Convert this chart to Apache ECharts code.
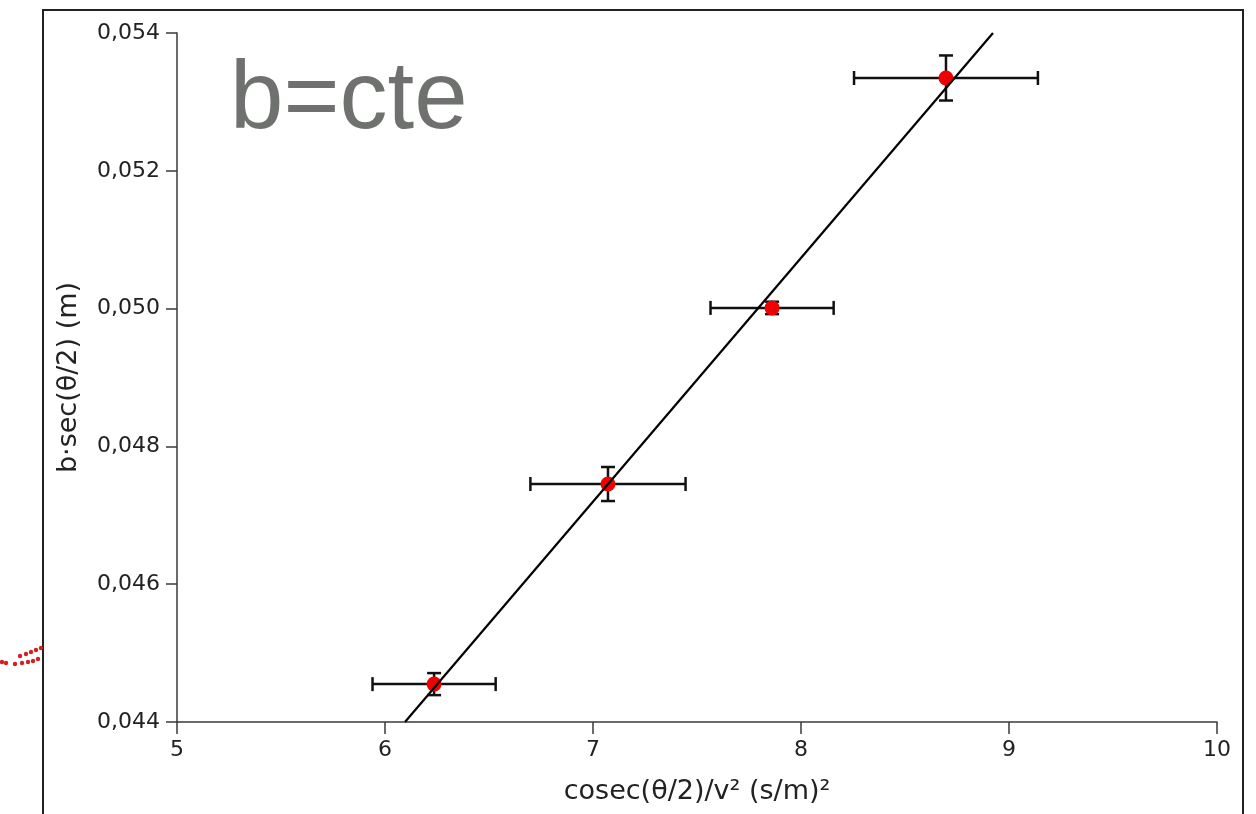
<!DOCTYPE html>
<html><head><meta charset="utf-8">
<style>html,body{margin:0;padding:0;background:#fff}#c{width:1256px;height:814px}</style>
<script src="https://cdn.jsdelivr.net/npm/echarts@6/dist/echarts.min.js"></script>
</head><body><div id="c"></div>
<script>
// Data
const xValues = [6.236, 7.072, 7.861, 8.697];
const yValues = [0.04455, 0.047454, 0.05001, 0.053347];
const xErrors = [0.296, 0.373, 0.296, 0.442];
const yErrors = [0.00016, 0.000247, 0.00009, 0.000327];
const fitX = [6.096, 8.923];
const fitY = [0.044, 0.054];
const xTicks = [5, 6, 7, 8, 9, 10];
const yTicks = [0.044, 0.046, 0.048, 0.050, 0.052, 0.054];
const xTitle = 'cosec(θ/2)/v² (s/m)²';
const yTitle = 'b·sec(θ/2) (m)';
const overlayText = 'b=cte';

const pts = xValues.map((x, i) => [x, yValues[i], xErrors[i], yErrors[i]]);
const fitLine = fitX.map((x, i) => [x, fitY[i]]);

const chart = echarts.init(document.getElementById('c'), null, {renderer: 'canvas'});
const axisColor = '#3a3a3a';
const labelFont = 'DejaVu Sans';

// decorative red dots at the left edge (slide fragment)
const deco = [[41,648],[36,650],[31,652],[26,654],[20,656],[38,659],[33,661],[28,662],[22,663],[15,664],[6,663],[2,662]];

chart.setOption({
  animation: false,
  backgroundColor: '#fff',
  grid: {left: 177, right: 39, top: 33, bottom: 92, containLabel: false},
  xAxis: {
    type: 'value', min: xTicks[0], max: xTicks[xTicks.length-1], interval: 1,
    name: xTitle, nameLocation: 'middle', nameGap: 56,
    nameTextStyle: {fontFamily: labelFont, fontSize: 27, color: '#222'},
    axisLine: {show: true, onZero: false, lineStyle: {color: axisColor, width: 1.5}},
    axisTick: {show: true, length: 12, lineStyle: {color: axisColor, width: 1.5}},
    axisLabel: {fontFamily: labelFont, fontSize: 22, color: '#222', margin: 17},
    splitLine: {show: false}
  },
  yAxis: {
    type: 'value', min: yTicks[0], max: yTicks[yTicks.length-1], interval: 0.002,
    name: yTitle, nameLocation: 'middle', nameGap: 95, nameRotate: 90,
    nameTextStyle: {fontFamily: labelFont, fontSize: 27, color: '#222'},
    axisLine: {show: true, onZero: false, lineStyle: {color: axisColor, width: 1.5}},
    axisTick: {show: true, length: 11, lineStyle: {color: axisColor, width: 1.5}},
    axisLabel: {fontFamily: labelFont, fontSize: 22, color: '#222', margin: 17,
      formatter: v => v.toFixed(3).replace('.', ',')},
    splitLine: {show: false}
  },
  graphic: [
    {type: 'rect', shape: {x: 43, y: 10, width: 1200, height: 820}, style: {fill: 'none', stroke: '#222', lineWidth: 2}, z: -1},
    {type: 'text', left: 230, top: 54, style: {text: overlayText, fontFamily: 'Liberation Sans', fontSize: 96, fill: '#6f716f'}}
  ].concat(deco.map(d => ({type: 'circle', shape: {cx: d[0], cy: d[1], r: 2.2}, style: {fill: '#d42020'}}))),
  series: [
    {
      type: 'custom', z: 2,
      data: pts,
      renderItem: function (params, api) {
        const x = api.value(0), y = api.value(1), ex = api.value(2), ey = api.value(3);
        const l = api.coord([x - ex, y]), r = api.coord([x + ex, y]);
        const t = api.coord([x, y + ey]), b = api.coord([x, y - ey]);
        const cap = 7;
        const st = {stroke: '#111', lineWidth: 2.5};
        return {type: 'group', children: [
          {type: 'line', shape: {x1: l[0], y1: l[1], x2: r[0], y2: r[1]}, style: st},
          {type: 'line', shape: {x1: l[0], y1: l[1]-cap, x2: l[0], y2: l[1]+cap}, style: st},
          {type: 'line', shape: {x1: r[0], y1: r[1]-cap, x2: r[0], y2: r[1]+cap}, style: st},
          {type: 'line', shape: {x1: t[0], y1: t[1], x2: b[0], y2: b[1]}, style: st},
          {type: 'line', shape: {x1: t[0]-cap, y1: t[1], x2: t[0]+cap, y2: t[1]}, style: st},
          {type: 'line', shape: {x1: b[0]-cap, y1: b[1], x2: b[0]+cap, y2: b[1]}, style: st}
        ]};
      }
    },
    {
      type: 'scatter', z: 3, data: pts.map(p => [p[0], p[1]]),
      symbol: 'circle', symbolSize: 15,
      itemStyle: {color: '#f00000', opacity: 1}
    },
    {
      type: 'line', z: 4, data: fitLine, showSymbol: false, symbol: 'none',
      lineStyle: {color: '#000', width: 2.2}
    }
  ]
});
</script></body></html>
